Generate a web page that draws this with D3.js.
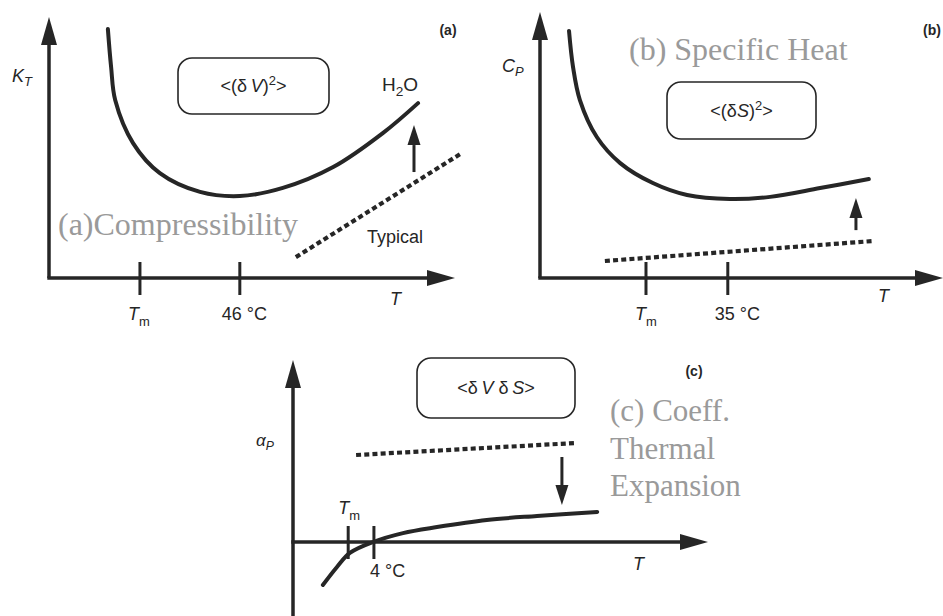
<!DOCTYPE html>
<html><head><meta charset="utf-8">
<script src="https://cdn.jsdelivr.net/npm/d3@7"></script>
<style>html,body{margin:0;padding:0;background:#fff}svg{display:block}</style>
</head><body>
<svg id="chart" width="943" height="616"></svg>
<script>
// ---------- DATA (arbitrary schematic units, axis spans 0..100) ----------
// Panel (a): isothermal compressibility K_T of water
const aT = [14.5, 15.3, 16.3, 20.7, 27.3, 37.2, 47.0, 57.6, 70.0, 82.3, 90.9];
const aK = [95.4, 80.8, 68.2, 51.7, 40.2, 33.0, 31.4, 34.5, 42.5, 55.6, 67.0];
const aTypicalT = [60.8, 101.7];
const aTypicalK = [8.0, 47.9];
const aTicks = [22.4, 47.0];
const aTickLabels = ["Tm", "46 °C"];
const aArrowT = [89.9];
const aArrowK = [40.6, 58.6];

// Panel (b): specific heat C_P
const bT = [7.2, 8.2, 9.9, 14.1, 19.9, 28.0, 36.5, 47.1, 57.1, 69.5, 81.6];
const bC = [92.9, 79.3, 66.9, 53.0, 43.2, 35.7, 31.2, 29.7, 30.5, 33.8, 37.2];
const bTypicalT = [16.1, 82.6];
const bTypicalC = [6.4, 13.9];
const bTicks = [26.3, 46.6];
const bTickLabels = ["Tm", "35 °C"];
const bArrowT = [78.4];
const bArrowC = [18.0, 30.1];

// Panel (c): coefficient of thermal expansion alpha_P
const cT = [7.2, 10.6, 13.7, 19.3, 26.5, 34.7, 46.7, 58.8, 73.3];
const cA = [-23.6, -13.7, -6.0, 0, 4.9, 8.2, 12.1, 14.3, 16.5];
const cTypicalT = [15.2, 68.2];
const cTypicalA = [47.8, 54.4];
const cTicks = [13.3, 19.5];
const cTickLabels = ["Tm", "4 °C"];
const cArrowT = [64.8];
const cArrowA = [46.7, 20.3];

// ---------- DRAWING ----------
const svg = d3.select("#chart");
const INK = "#262626";
const GRAY = "#9a9a9a";
const SANS = "'Liberation Sans', Arial, sans-serif";
const SERIF = "'Liberation Serif', 'Times New Roman', serif";

function label(g, parts, x, y, size, anchor) {
  const t = g.append("text").attr("x", x).attr("y", y)
    .attr("font-family", SANS).attr("font-size", size).attr("fill", INK)
    .attr("text-anchor", anchor || "start");
  parts.forEach(p => {
    const s = t.append("tspan").text(p.t);
    if (p.i) s.attr("font-style", "italic");
    if (p.sub) s.attr("font-size", size * 0.72).attr("dy", p.dy || 5);
    if (p.sup) s.attr("font-size", size * 0.72).attr("dy", -7);
    if (p.back) s.attr("dy", p.back);
  });
  return t;
}

function tickLabelParts(l) {
  if (l === "Tm") return [{t: "T", i: true}, {t: "m", sub: true, dy: 6}];
  return [{t: l}];
}

function panel(cfg) {
  const g = svg.append("g");
  const x = d3.scaleLinear().domain([0, 100]).range(cfg.xr);
  const y = d3.scaleLinear().domain([0, 100]).range(cfg.yr);
  const x0 = x(0), y0 = y(0);
  const AL = 28, AW = 8;
  // y axis
  g.append("line").attr("x1", x0).attr("x2", x0)
    .attr("y1", y(cfg.yMin)).attr("y2", y(100) + AL - 2)
    .attr("stroke", INK).attr("stroke-width", 3.5);
  g.append("path").attr("d", `M${x0},${y(100)}L${x0 - AW},${y(100) + AL}L${x0 + AW},${y(100) + AL}Z`).attr("fill", INK);
  // x axis
  g.append("line").attr("x1", x0 - 1.7).attr("x2", x(100) - AL + 2)
    .attr("y1", y0).attr("y2", y0)
    .attr("stroke", INK).attr("stroke-width", 3.5);
  g.append("path").attr("d", `M${x(100)},${y0}L${x(100) - AL},${y0 - AW}L${x(100) - AL},${y0 + AW}Z`).attr("fill", INK);
  // ticks
  g.selectAll(".tk").data(cfg.ticks).enter().append("line")
    .attr("x1", d => x(d)).attr("x2", d => x(d))
    .attr("y1", y0 - 16).attr("y2", y0 + 17)
    .attr("stroke", INK).attr("stroke-width", 3);
  cfg.ticks.forEach((d, i) => {
    const o = cfg.tickLab[i];
    label(g, tickLabelParts(cfg.tickLabels[i]), x(d) + o[0], y0 + o[1], 18, o[2]);
  });
  // typical (dotted) line
  const line = d3.line().x(d => x(d[0])).y(d => y(d[1]));
  g.append("path").datum(d3.zip(cfg.typT, cfg.typV)).attr("d", line)
    .attr("fill", "none").attr("stroke", INK).attr("stroke-width", 4.2)
    .attr("stroke-dasharray", "5,3.2");
  // water curve
  const curve = d3.line().x(d => x(d[0])).y(d => y(d[1])).curve(d3.curveCatmullRom.alpha(0.5));
  g.append("path").datum(d3.zip(cfg.T, cfg.V)).attr("d", curve)
    .attr("fill", "none").attr("stroke", INK).attr("stroke-width", 4)
    .attr("stroke-linecap", "round");
  // small arrow (from typical to water)
  const ax = x(cfg.arT[0]), ya = y(cfg.arV[0]), yb = y(cfg.arV[1]);
  const dir = yb < ya ? -1 : 1, HL = 20, HW = 6.5;
  g.append("line").attr("x1", ax).attr("x2", ax).attr("y1", ya).attr("y2", yb - dir * HL)
    .attr("stroke", INK).attr("stroke-width", 3);
  g.append("path").attr("d", `M${ax},${yb}L${ax - HW},${yb - dir * HL}L${ax + HW},${yb - dir * HL}Z`).attr("fill", INK);
  // box
  const b = cfg.box;
  g.append("rect").attr("x", b[0]).attr("y", b[1]).attr("width", b[2]).attr("height", b[3])
    .attr("rx", 14).attr("ry", 14).attr("fill", "none").attr("stroke", INK).attr("stroke-width", 1.6);
  label(g, cfg.boxText, b[0] + b[2] / 2, b[1] + b[3] / 2 + 6, 18, "middle");
  return {g, x, y};
}

// ---- panel (a)
const A = panel({xr: [49, 455], yr: [278, 17], yMin: 0,
  T: aT, V: aK, typT: aTypicalT, typV: aTypicalK, ticks: aTicks, tickLabels: aTickLabels,
  tickLab: [[-12, 42, "start"], [-18, 42, "start"]],
  arT: aArrowT, arV: aArrowK, box: [178, 58, 151, 56],
  boxText: [{t: "<(δ\u2009"}, {t: "V", i: true}, {t: ")"}, {t: "2", sup: true}, {t: ">", back: 7}]});
label(A.g, [{t: "K", i: true}, {t: "T", i: true, sub: true, dy: 4}], 12, 82, 18);
label(A.g, [{t: "T", i: true}], 390, 305, 18);
label(A.g, [{t: "H"}, {t: "2", sub: true, dy: 5}, {t: "O", back: -5}], 382, 91, 19);
label(A.g, [{t: "Typical"}], 367, 243, 18);
A.g.append("text").attr("x", 448).attr("y", 35).attr("text-anchor", "middle")
  .attr("font-family", SANS).attr("font-weight", "bold").attr("font-size", 14).attr("fill", INK).text("(a)");
A.g.append("text").attr("x", 58).attr("y", 235).attr("font-family", SERIF)
  .attr("font-size", 32).attr("fill", GRAY).text("(a)Compressibility");

// ---- panel (b)
const B = panel({xr: [540, 943], yr: [278, 12], yMin: 0,
  T: bT, V: bC, typT: bTypicalT, typV: bTypicalC, ticks: bTicks, tickLabels: bTickLabels,
  tickLab: [[-11, 42, "start"], [-13, 42, "start"]],
  arT: bArrowT, arV: bArrowC, box: [667, 82, 149, 57],
  boxText: [{t: "<(δ"}, {t: "S", i: true}, {t: ")"}, {t: "2", sup: true}, {t: ">", back: 7}]});
label(B.g, [{t: "C", i: true}, {t: "P", i: true, sub: true, dy: 4}], 502, 72, 18);
label(B.g, [{t: "T", i: true}], 878, 302, 18);
B.g.append("text").attr("x", 941).attr("y", 35).attr("text-anchor", "end")
  .attr("font-family", SANS).attr("font-weight", "bold").attr("font-size", 14).attr("fill", INK).text("(b)");
B.g.append("text").attr("x", 629).attr("y", 60).attr("font-family", SERIF)
  .attr("font-size", 32).attr("fill", GRAY).text("(b) Specific Heat");

// ---- panel (c)
const C = panel({xr: [293, 708], yr: [542, 360], yMin: -41,
  T: cT, V: cA, typT: cTypicalT, typV: cTypicalA, ticks: cTicks, tickLabels: cTickLabels,
  tickLab: [[-10, -28, "start"], [-4, 35, "start"]],
  arT: cArrowT, arV: cArrowA, box: [417, 358, 158, 60],
  boxText: [{t: "<δ\u2009"}, {t: "V", i: true}, {t: " δ\u2009"}, {t: "S", i: true}, {t: ">"}]});
label(C.g, [{t: "α", i: true}, {t: "P", i: true, sub: true, dy: 4}], 256, 446, 17);
label(C.g, [{t: "T", i: true}], 633, 570, 18);
C.g.append("text").attr("x", 694).attr("y", 376).attr("text-anchor", "middle")
  .attr("font-family", SANS).attr("font-weight", "bold").attr("font-size", 14).attr("fill", INK).text("(c)");
const ct = C.g.append("text").attr("font-family", SERIF).attr("font-size", 31).attr("fill", GRAY);
[["(c) Coeff.", 421], ["Thermal", 459], ["Expansion", 496]].forEach(d => {
  ct.append("tspan").attr("x", 610).attr("y", d[1]).text(d[0]);
});
</script>
</body></html>
